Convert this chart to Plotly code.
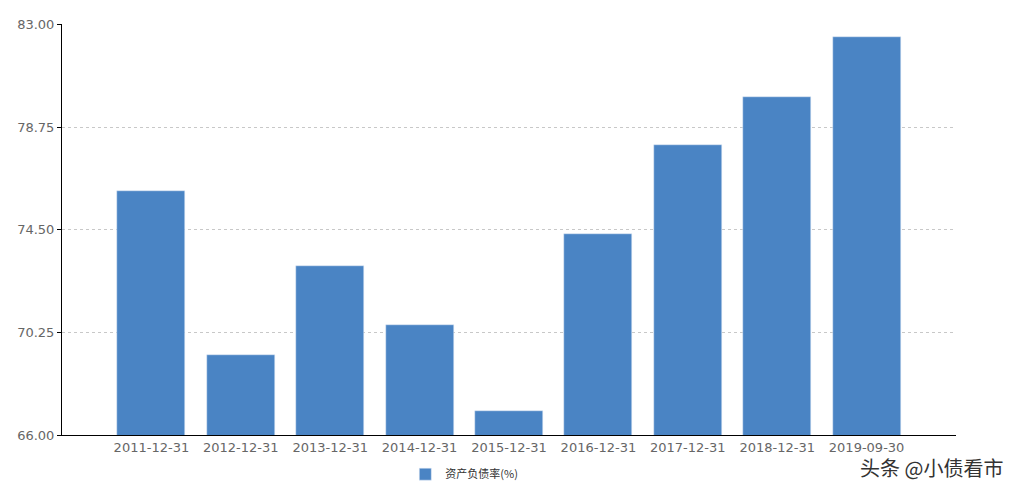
import plotly.graph_objects as go

dates = ["2011-12-31", "2012-12-31", "2013-12-31", "2014-12-31", "2015-12-31",
         "2016-12-31", "2017-12-31", "2018-12-31", "2019-09-30"]
ratio = [76.09, 69.33, 72.99, 70.54, 67.00, 74.32, 78.02, 79.99, 82.48]
y_ticks = [66.00, 70.25, 74.50, 78.75, 83.00]

fig = go.Figure(go.Bar(
    x=list(range(len(dates))), y=ratio, name="资产负债率(%)",
    marker_color="#4a84c4", width=0.76, showlegend=True,
))

fig.update_layout(
    width=1012, height=490,
    margin=dict(l=54, r=64, t=9, b=58),
    plot_bgcolor="white", paper_bgcolor="white",
    font=dict(family="DejaVu Sans, Noto Sans CJK SC, sans-serif", size=13, color="#666"),
    bargap=0,
    legend=dict(orientation="h", x=0.45, xanchor="center", y=-0.06, yanchor="top",
                font=dict(size=11, color="#333", family="Noto Sans CJK SC")),
    xaxis=dict(tickvals=list(range(len(dates))), ticktext=dates, range=[-1, 9],
               showline=True, linecolor="#000", showgrid=False, ticks="", ticklen=0),
    yaxis=dict(range=[66, 83.02], tickvals=y_ticks, ticktext=[f"{v:.2f}" for v in y_ticks],
               showline=True, linecolor="#000", gridcolor="#c8c8c8", griddash="3px,3px",
               zeroline=False, ticks="outside", ticklen=4, tickcolor="#000"),
)
fig.add_annotation(text="头条 @小债看市", xref="paper", yref="paper", x=1.055, y=-0.04,
                   xanchor="right", yanchor="top", showarrow=False,
                   font=dict(size=20, color="#333", family="Noto Sans CJK SC"))

fig.write_html("out.html")
